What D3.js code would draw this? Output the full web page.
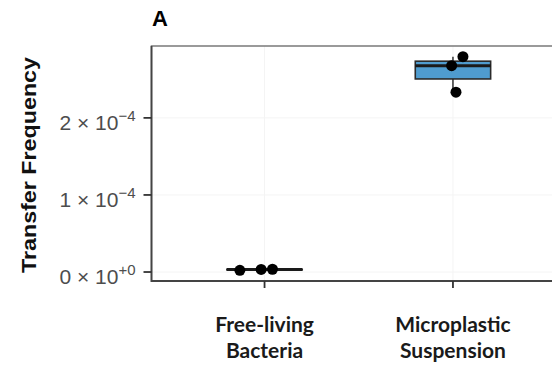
<!DOCTYPE html>
<html>
<head>
<meta charset="utf-8">
<script src="https://cdn.jsdelivr.net/npm/d3@7"></script>
<style>
  body { margin: 0; background: #fff; }
  svg { display: block; }
</style>
</head>
<body>
<div id="chart"></div>
<script>
// data
const groups = ["Free-living Bacteria", "Microplastic Suspension"];
const freeLiving = [2.2e-6, 3.4e-6, 3.6e-6];
const microplastic = [2.333e-4, 2.677e-4, 2.794e-4];
// horizontal jitter of the points, as a fraction of the category step
const freeLivingJitter = [-0.131, -0.018, 0.042];
const microplasticJitter = [0.016, -0.007, 0.053];
const yTicks = [0, 1e-4, 2e-4];
const yTickMantissa = ["0", "1", "2"];
const yTickExponent = ["+0", "\u22124", "\u22124"];

const width = 552, height = 365;
const panel = { left: 151.5, right: 566, top: 46, bottom: 281 };

const series = [
    { group: groups[0], values: freeLiving, jitter: freeLivingJitter },
    { group: groups[1], values: microplastic, jitter: microplasticJitter }
];

const svg = d3.select("#chart").append("svg")
    .attr("width", width)
    .attr("height", height);

const x = d3.scalePoint()
    .domain(groups)
    .range([panel.left, panel.right])
    .padding(0.6);

// ggplot style 5% expansion around the data
const all = freeLiving.concat(microplastic);
const lo = d3.min(all), hi = d3.max(all), pad = (hi - lo) * 0.05;
const y = d3.scaleLinear()
    .domain([lo - pad, hi + pad])
    .range([panel.bottom, panel.top]);

const step = x.step();

svg.append("clipPath").attr("id", "panel-clip")
    .append("rect")
    .attr("x", panel.left).attr("y", panel.top)
    .attr("width", width - panel.left).attr("height", panel.bottom - panel.top);

const plot = svg.append("g").attr("clip-path", "url(#panel-clip)");

// faint grid
plot.selectAll(".grid-y")
    .data(yTicks)
    .enter().append("line")
    .attr("x1", panel.left).attr("x2", width)
    .attr("y1", d => y(d)).attr("y2", d => y(d))
    .attr("stroke", "#f4f4f4").attr("stroke-width", 1);

plot.selectAll(".grid-x")
    .data(groups)
    .enter().append("line")
    .attr("x1", d => x(d)).attr("x2", d => x(d))
    .attr("y1", panel.top).attr("y2", panel.bottom)
    .attr("stroke", "#f4f4f4").attr("stroke-width", 1);

// boxplots
series.forEach(s => {
    const v = s.values.slice().sort(d3.ascending);
    const q1 = d3.quantile(v, 0.25), med = d3.quantile(v, 0.5), q3 = d3.quantile(v, 0.75);
    const iqr = q3 - q1;
    const wLo = d3.min(v.filter(d => d >= q1 - 1.5 * iqr));
    const wHi = d3.max(v.filter(d => d <= q3 + 1.5 * iqr));
    const cx = x(s.group);
    const bw = step * 0.4;
    const g = plot.append("g");

    g.append("line")
        .attr("x1", cx).attr("x2", cx)
        .attr("y1", y(wHi)).attr("y2", y(q3))
        .attr("stroke", "#333").attr("stroke-width", 1.5);
    g.append("line")
        .attr("x1", cx).attr("x2", cx)
        .attr("y1", y(q1)).attr("y2", y(wLo))
        .attr("stroke", "#333").attr("stroke-width", 1.5);
    g.append("rect")
        .attr("x", cx - bw / 2)
        .attr("y", y(q3))
        .attr("width", bw)
        .attr("height", Math.max(0, y(q1) - y(q3)))
        .attr("fill", "#4f9ccf")
        .attr("stroke", "#2b2b2b")
        .attr("stroke-width", 1.6);
    g.append("line")
        .attr("x1", cx - bw / 2).attr("x2", cx + bw / 2)
        .attr("y1", y(med)).attr("y2", y(med))
        .attr("stroke", "#1a1a1a").attr("stroke-width", 3);

    g.selectAll("circle")
        .data(s.values)
        .enter().append("circle")
        .attr("cx", (d, i) => cx + s.jitter[i] * step)
        .attr("cy", d => y(d))
        .attr("r", 5.5)
        .attr("fill", "#000");
});

// panel border
svg.append("rect")
    .attr("x", panel.left).attr("y", panel.top)
    .attr("width", panel.right - panel.left)
    .attr("height", panel.bottom - panel.top)
    .attr("fill", "none")
    .attr("stroke", "#7a7a7a")
    .attr("stroke-width", 1.5);
svg.append("path")
    .attr("d", `M${panel.left},${panel.top}V${panel.bottom}H${width}`)
    .attr("fill", "none")
    .attr("stroke", "#444")
    .attr("stroke-width", 1.8);

// y axis ticks and labels
const yAxis = svg.append("g").attr("class", "y-axis");
yAxis.selectAll("line")
    .data(yTicks)
    .enter().append("line")
    .attr("x1", panel.left - 8).attr("x2", panel.left)
    .attr("y1", d => y(d)).attr("y2", d => y(d))
    .attr("stroke", "#333").attr("stroke-width", 1.8);

const yLab = yAxis.selectAll("text")
    .data(yTicks)
    .enter().append("text")
    .attr("x", panel.left - 16)
    .attr("y", d => y(d) + 12)
    .attr("text-anchor", "end")
    .attr("font-family", "Liberation Sans, Arial, sans-serif")
    .attr("font-size", 21)
    .attr("fill", "#4d4d4d");
yLab.append("tspan").text((d, i) => yTickMantissa[i] + " \u00d7 10");
yLab.append("tspan")
    .attr("font-size", 15)
    .attr("dy", -9)
    .text((d, i) => yTickExponent[i]);

// x axis ticks and labels
const xAxis = svg.append("g").attr("class", "x-axis");
xAxis.selectAll("line")
    .data(groups)
    .enter().append("line")
    .attr("x1", d => x(d)).attr("x2", d => x(d))
    .attr("y1", panel.bottom).attr("y2", panel.bottom + 7)
    .attr("stroke", "#333").attr("stroke-width", 1.8);

const xLab = xAxis.selectAll("text")
    .data(groups)
    .enter().append("text")
    .attr("text-anchor", "middle")
    .attr("font-family", "Lato, 'Open Sans', sans-serif")
    .attr("font-weight", "bold")
    .attr("font-size", 21)
    .attr("fill", "#1a1a1a");
xLab.selectAll("tspan")
    .data(d => d.split(" ").map(w => ({ w: w, cx: x(d) })))
    .enter().append("tspan")
    .attr("x", d => d.cx)
    .attr("y", (d, i) => 332 + i * 25.5)
    .text(d => d.w);

// axis title
svg.append("text")
    .attr("transform", "translate(36,165) rotate(-90)")
    .attr("text-anchor", "middle")
    .attr("font-family", "Liberation Sans, Arial, sans-serif")
    .attr("font-weight", "bold")
    .attr("font-size", 20)
    .attr("textLength", 216)
    .attr("lengthAdjust", "spacingAndGlyphs")
    .attr("fill", "#111")
    .text("Transfer Frequency");

// panel tag
svg.append("text")
    .attr("x", 152)
    .attr("y", 26)
    .attr("font-family", "Liberation Sans, Arial, sans-serif")
    .attr("font-weight", "bold")
    .attr("font-size", 22)
    .attr("fill", "#000")
    .text("A");
</script>
</body>
</html>
